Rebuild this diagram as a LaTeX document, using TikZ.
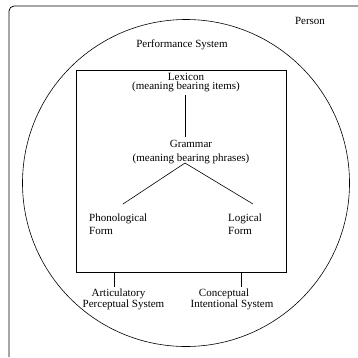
\documentclass[tikz,border=0pt]{standalone}
\usepackage{fontspec}
\setmainfont{Liberation Serif}
\begin{document}
\begin{tikzpicture}[x=1pt,y=-1pt,
  lbl/.style={inner sep=0pt,font=\fontsize{11}{13}\selectfont},
  tight/.style={inner sep=0pt,font=\fontsize{11}{9}\selectfont,align=center},
  frame/.style={draw,line width=0.8pt},
  conn/.style={draw,line width=0.6pt}]
\useasboundingbox (0,0) rectangle (358,357);
% outer frame (Person)
\draw[frame,rounded corners=5pt] (9,357) -- (9,6) -- (360,6);
% circle (Performance System)
\draw[line width=0.6pt] (186,183) circle (163.5);
% inner box
\draw[frame] (76.5,70) rectangle (286.5,272);
% labels
\node[lbl] (person) at (310,21) {Person};
\node[lbl] (perf) at (182,45) {Performance System};
\node[tight] (lex) at (186,82.5) {Lexicon\\(meaning bearing items)};
\node[lbl,align=center,font=\fontsize{11}{14}\selectfont] (gram) at (191,152) {Grammar\\(meaning bearing phrases)};
\node[lbl,align=left,anchor=west] (phon) at (89,224.5) {Phonological\\Form};
\node[lbl,align=left,anchor=west] (logi) at (228,224.5) {Logical\\Form};
\node[tight,font=\fontsize{11}{8.5}\selectfont] (art) at (123.5,299) {Articulatory\hspace*{10pt}\\Perceptual System};
\node[tight,font=\fontsize{11}{8.5}\selectfont] (con) at (232,299) {Conceptual\hspace*{16pt}\\Intentional System};
% connector endpoints
\coordinate (lexb) at (185,95);
\coordinate (gramt) at (185,137);
\coordinate (gramb) at (185,163);
\coordinate (phont) at (123,204);
\coordinate (logit) at (253,204);
\coordinate (artt) at (114,272);
\coordinate (artb) at (114,287);
\coordinate (cont) at (241,272);
\coordinate (conb) at (241,287);
\draw[conn] (lexb) -- (gramt);
\draw[conn] (gramb) -- (phont);
\draw[conn] (gramb) -- (logit);
\draw[conn] (artt) -- (artb);
\draw[conn] (cont) -- (conb);
\end{tikzpicture}
\end{document}
